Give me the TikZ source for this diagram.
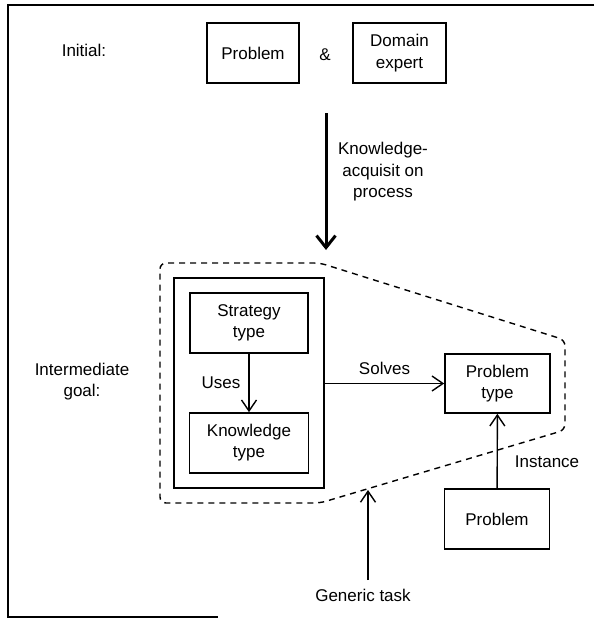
\documentclass[tikz,border=0pt]{standalone}
\usepackage{fontspec}
\setmainfont{Liberation Sans}
\usetikzlibrary{arrows.meta}
\begin{document}
\begin{tikzpicture}[x=1pt,y=-1pt,
  every node/.style={font=\fontsize{17}{22}\selectfont, inner sep=0pt, align=center},
  box/.style={draw, line width=1.6pt, minimum width=#1, minimum height=60pt},
  box/.default=105pt,
  framel/.style={line width=1.4pt},
  conn/.style={line width=1.4pt, -{Straight Barb[length=11pt,width=15pt,line width=1.4pt]}},
  bigconn/.style={line width=3pt, -{Straight Barb[length=12pt,width=19pt,line width=3pt]}},
  gtdash/.style={line width=1.4pt, dash pattern=on 6pt off 5pt, rounded corners=6pt}
]
\useasboundingbox (0,0) rectangle (594,618);
% frame
\draw[framel] (594,5) -- (8,5) -- (8,617) -- (218,617);

% initial row
\node (initlab) at (84,50) {Initial:};
\node[box=92pt] (prob1) at (253,53) {Problem};
\node (amp) at (325,55) {\&};
\node[box=93pt] (domain) at (399.5,53) {Domain\\expert};

% knowledge acquisition arrow
\coordinate (kaa) at (326,113);
\coordinate (kab) at (326,250);
\draw[bigconn] (kaa) -- (kab);
\node[font=\fontsize{17}{21.5}\selectfont] (kalab) at (383,172) {Knowledge-\\acquisit on\\process};

% intermediate goal
\node[font=\fontsize{17}{21}\selectfont] (intlab) at (82,382) {Intermediate\\goal:};

\draw[gtdash] (240,263) -- (160,263) -- (160,503) -- (320,503) -- (565,430) -- (565,340) -- (320,263) -- (240,263);

\node[draw, line width=1.6pt, minimum width=150pt, minimum height=210pt] (outer) at (249,383) {};
\node[box=118pt, font=\fontsize{17}{21}\selectfont] (strat) at (249,323) {Strategy\\type};
\node[box=119pt, font=\fontsize{17}{21}\selectfont] (know) at (249,443) {Knowledge\\type};
\draw[conn] (strat) -- node[left=8pt] (uses) {Uses} (know);

\node[box=105pt, minimum height=59pt, font=\fontsize{17}{21}\selectfont] (ptype) at (497.5,383.5) {Problem\\type};
\draw[conn] (outer.east |- ptype.west) -- node[above=8pt] (solves) {Solves} (ptype.west);

\node[box=105pt] (prob2) at (497,519) {Problem};
\draw[conn] (prob2) -- node[right=17pt, pos=0.35] (inst) {Instance} (ptype);

% generic task
\node (gtlab) at (363,595) {Generic task};
\coordinate (gttip) at (368,490);
\draw[conn] (368,580) -- (gttip);
\end{tikzpicture}
\end{document}
